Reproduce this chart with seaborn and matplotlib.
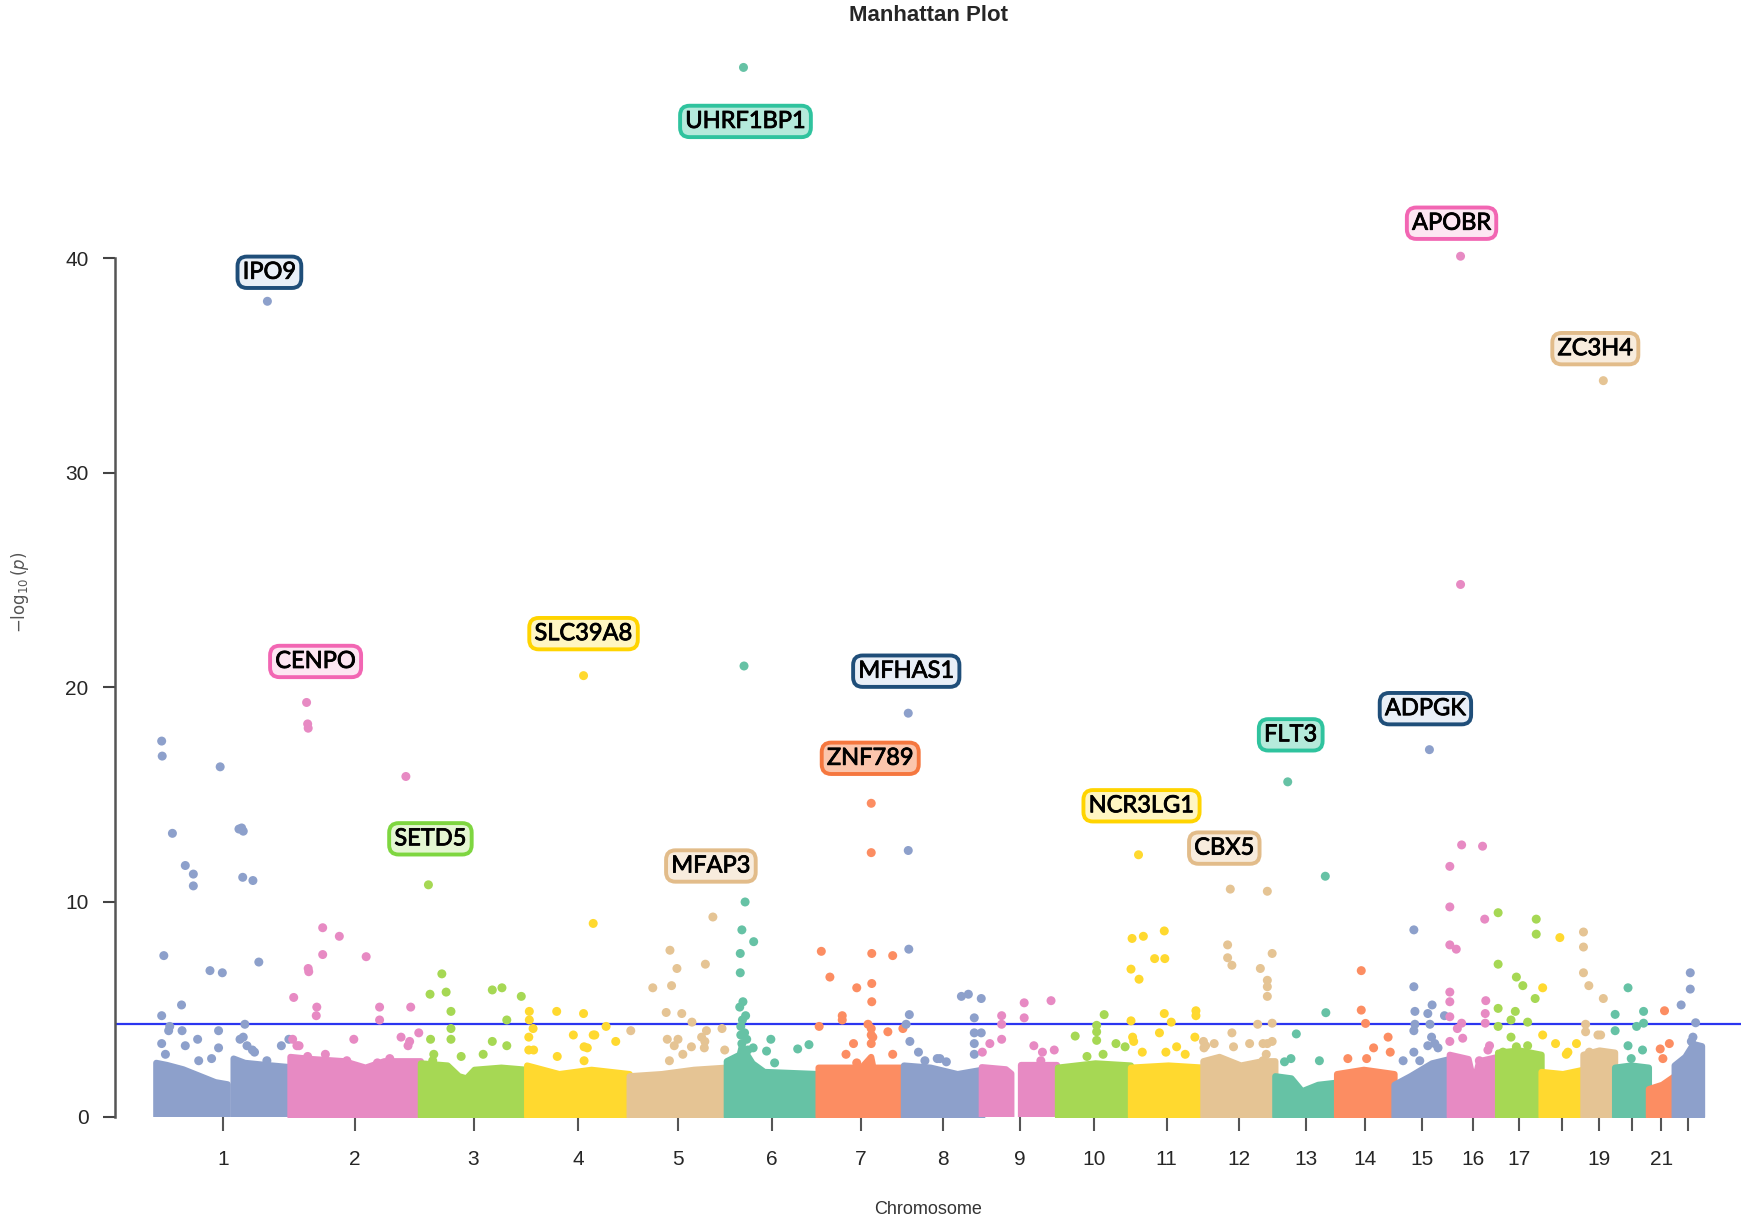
"""
Manhattan plot of gene-level associations
"""

import seaborn as sns
import pandas as pd
import numpy as np
import matplotlib.pyplot as plt
import matplotlib.patheffects as pe

# chromosomes and their lengths (Mb)
chrom_names = [str(i) for i in range(1, 23)]
chrom_len = [249, 243, 198, 191, 181, 171, 159, 146, 141, 136, 135,
             134, 115, 107, 103, 90, 81, 78, 59, 63, 48, 51]
tick_labels = ['1', '2', '3', '4', '5', '6', '7', '8', '9', '10', '11',
               '12', '13', '14', '15', '16', '17', '', '19', '', '21', '']

# labelled lead genes
gene_names = ['IPO9', 'CENPO', 'SETD5', 'SLC39A8', 'MFAP3', 'UHRF1BP1', 'ZNF789',
              'MFHAS1', 'NCR3LG1', 'CBX5', 'FLT3', 'ADPGK', 'APOBR', 'ZC3H4']
gene_chrom = [1, 2, 3, 4, 5, 6, 7, 8, 11, 12, 13, 15, 16, 19]
gene_pos = [207, 31, 15, 106, 156, 32, 99, 9, 15, 51, 24, 66, 21, 38]
gene_logp = [38.0, 19.3, 10.8, 20.55, 9.3, 48.9, 14.6, 18.8, 12.2, 10.6, 15.6,
             17.1, 40.1, 34.3]

# other genes above the dense band, one list per chromosome (pos in Mb)
hit_pos = [
    [10, 11, 119, 30, 159, 162, 154, 54, 69, 69, 161, 180, 14, 100, 123, 191,
     47, 10, 25, 165, 48, 116, 77, 10, 54, 116, 156, 179, 233, 17, 23, 162,
     169, 183, 79, 103, 206, 247],
    [33, 34, 216, 61, 92, 61, 142, 34, 35, 7, 50, 49, 167, 225, 167, 119, 207,
     220, 17, 5, 240, 13, 223, 66, 163, 186, 33, 106],
    [40, 18, 48, 134, 152, 188, 57, 161, 57, 19, 57, 134, 161, 25, 117, 23, 76],
    [124, 5, 56, 106, 5, 12, 87, 127, 4, 4, 13, 113, 148, 166, 107, 124, 57,
     107],
    [76, 89, 142, 44, 79, 69, 98, 117, 144, 173, 71, 135, 140, 84, 3, 91, 100,
     75, 116, 141, 178],
    [33, 35, 29, 51, 26, 26, 31, 25, 36, 27, 83, 75, 133, 154, 38, 40, 27, 29,
     30, 34, 50, 90],
    [99, 6, 22, 100, 139, 72, 100, 100, 45, 45, 2, 93, 99, 99, 99, 130, 66,
     102, 158, 139, 52, 72],
    [9, 10, 11, 5, 108, 121, 145, 132, 132, 145, 132, 28, 68, 12, 40, 63, 80,
     132],
    [37, 37, 37, 79, 79, 129, 97, 135, 15, 1, 113, 110],
    [87, 73, 33, 73, 73, 109, 126, 55, 85],
    [3, 24, 63, 45, 64, 1, 16, 63, 76, 122, 122, 1, 54, 120, 4, 6, 22, 86, 102,
     66],
    [120, 46, 46, 54, 129, 107, 120, 120, 120, 102, 129, 54, 120, 129, 5, 1, 2,
     21, 57, 87, 112, 118, 112],
    [94, 95, 40, 18, 30, 83],
    [46, 46, 54, 96, 69, 100, 56, 21],
    [37, 37, 39, 63, 39, 71, 37, 67, 94, 63, 70, 37, 76, 82, 17, 48],
    [21, 23, 62, 1, 1, 1, 13, 66, 1, 1, 1, 15, 23, 25, 68, 67, 67, 75, 1, 72,
     56],
    [1, 1, 35, 47, 72, 72, 70, 1, 33, 25, 56, 1, 25, 56, 35, 10, 54],
    [35, 3, 3, 27, 50, 66, 47],
    [1, 1, 1, 11, 38, 5, 5, 33, 28, 12],
    [25, 1, 54, 1, 54, 41, 25, 52, 31],
    [30, 22, 39, 27],
    [30, 30, 13, 40, 32, 35, 36, 34],
]
hit_logp = [
    [17.5, 16.8, 16.3, 13.2, 13.45, 13.3, 13.4, 11.7, 11.3, 10.75, 11.15, 11.0,
     7.5, 6.8, 6.7, 7.2, 5.2, 4.7, 4.2, 4.3, 4.0, 4.0, 3.6, 3.4, 3.3, 3.2, 3.6,
     3.1, 3.3, 2.9, 4.0, 3.7, 3.3, 3.0, 2.6, 2.7, 2.6, 3.6],
    [18.3, 18.1, 15.85, 8.8, 8.4, 7.55, 7.45, 6.9, 6.75, 5.55, 5.1, 4.7, 5.1,
     5.1, 4.5, 3.6, 3.7, 3.3, 3.3, 3.6, 3.9, 3.3, 3.5, 2.9, 2.5, 2.7, 2.8, 2.6],
    [6.65, 5.7, 5.8, 5.9, 6.0, 5.6, 4.9, 4.5, 4.1, 3.6, 3.6, 3.5, 3.3, 2.9,
     2.9, 2.6, 2.8],
    [9.0, 4.9, 4.9, 4.8, 4.5, 4.1, 3.8, 3.8, 3.7, 3.1, 3.1, 3.2, 4.2, 3.5,
     3.25, 3.8, 2.8, 2.6],
    [7.75, 6.9, 7.1, 6.0, 6.1, 4.85, 4.8, 4.4, 4.0, 4.1, 3.6, 3.7, 3.2, 3.3,
     4.0, 3.6, 2.9, 2.6, 3.25, 3.5, 3.1],
    [21.0, 10.0, 8.7, 8.15, 7.6, 6.7, 5.35, 5.1, 4.7, 4.2, 3.6, 3.05, 3.15,
     3.35, 3.6, 3.1, 3.8, 3.4, 4.5, 3.9, 3.2, 2.5],
    [12.3, 7.7, 6.5, 7.6, 7.5, 6.0, 6.2, 5.35, 4.7, 4.5, 4.2, 4.3, 4.1, 3.8,
     3.4, 3.95, 3.4, 3.7, 4.1, 2.9, 2.9, 2.5],
    [12.4, 7.8, 4.75, 4.3, 5.6, 5.7, 5.5, 4.6, 3.9, 3.9, 3.4, 3.0, 2.7, 3.5,
     2.6, 2.7, 2.55, 2.9],
    [4.7, 4.3, 3.6, 5.3, 4.6, 5.4, 3.3, 3.1, 3.4, 3.0, 3.0, 2.6],
    [4.75, 4.25, 3.75, 3.95, 3.55, 3.4, 3.25, 2.8, 2.9],
    [8.3, 8.4, 8.65, 7.36, 7.36, 6.87, 6.4, 4.8, 4.4, 4.93, 4.7, 4.46, 3.9,
     3.7, 3.7, 3.5, 3.0, 3.25, 2.9, 3.0],
    [10.5, 8.0, 7.4, 7.05, 7.6, 6.9, 6.35, 6.05, 5.6, 4.3, 4.35, 3.9, 3.4, 3.5,
     3.3, 3.5, 3.2, 3.4, 3.25, 3.4, 3.4, 2.9, 2.6],
    [11.2, 4.84, 3.85, 2.55, 2.7, 2.6],
    [6.8, 4.96, 4.34, 3.7, 3.2, 3.0, 2.7, 2.7],
    [8.7, 6.05, 4.9, 4.8, 4.3, 5.2, 4.0, 4.3, 4.7, 3.3, 3.7, 3.0, 3.4, 3.2,
     2.6, 2.6],
    [24.8, 12.66, 12.6, 11.66, 9.77, 8.0, 7.8, 9.2, 5.8, 5.35, 4.65, 4.1, 4.35,
     3.65, 5.4, 4.8, 4.35, 3.3, 3.5, 3.1, 2.6],
    [9.5, 7.1, 6.5, 6.1, 9.2, 8.5, 5.5, 5.04, 4.9, 4.5, 4.4, 4.2, 3.7, 3.3,
     3.25, 3.0, 2.9],
    [8.34, 6.0, 3.8, 3.4, 3.0, 3.4, 2.9],
    [8.6, 7.9, 6.7, 6.1, 5.5, 4.3, 3.95, 3.8, 3.8, 3.0],
    [6.0, 4.76, 4.9, 4.0, 4.35, 4.2, 3.3, 3.1, 2.7],
    [4.93, 3.15, 3.4, 2.7],
    [6.7, 5.94, 5.2, 4.37, 3.5, 3.7, 3.0, 2.7],
]

# top of the dense band of non-significant genes (nan = centromere gap)
bulk_pos = [
    [0, 20, 50, 80, 110, 133, 138, 144, 165, 205, 249],
    [0, 40, 100, 140, 175, 243],
    [0, 50, 71, 85, 100, 150, 198],
    [0, 60, 120, 191],
    [0, 60, 120, 181],
    [0, 24, 28, 38, 48, 70, 171],
    [0, 80, 98, 102, 159],
    [0, 50, 100, 146],
    [0, 45, 55, 64, 73, 141],
    [0, 70, 136],
    [0, 70, 135],
    [0, 30, 70, 110, 134],
    [0, 30, 50, 80, 115],
    [0, 50, 107],
    [0, 30, 70, 103],
    [0, 35, 45, 55, 90],
    [0, 40, 81],
    [0, 40, 78],
    [0, 30, 59],
    [0, 30, 63],
    [0, 25, 48],
    [0, 20, 35, 51],
]
bulk_top = [
    [2.5, 2.4, 2.2, 1.9, 1.6, 1.5, np.nan, 2.7, 2.5, 2.4, 2.3],
    [2.8, 2.7, 2.6, 2.3, 2.6, 2.6],
    [2.5, 2.4, 1.9, 1.8, 2.2, 2.3, 2.2],
    [2.4, 2.0, 2.2, 2.0],
    [1.9, 2.0, 2.2, 2.3],
    [2.6, 2.9, 3.3, 2.9, 2.5, 2.1, 2.0],
    [2.3, 2.3, 2.8, 2.3, 2.3],
    [2.4, 2.3, 2.0, 2.2],
    [2.3, 2.2, 2.0, np.nan, 2.4, 2.4],
    [2.3, 2.5, 2.4],
    [2.3, 2.4, 2.3],
    [2.6, 2.8, 2.4, 2.6, 2.6],
    [1.9, 1.8, 1.2, 1.5, 1.6],
    [2.0, 2.2, 2.0],
    [1.5, 1.9, 2.5, 2.7],
    [2.9, 2.7, 1.6, 2.6, 2.8],
    [3.0, 3.1, 2.9],
    [2.1, 2.0, 2.2],
    [2.9, 3.1, 3.0],
    [2.3, 2.4, 2.3],
    [1.3, 1.5, 1.9],
    [2.4, 2.8, 3.4, 3.3],
]

suggestive_line = 4.3

# chromosome colours (cycle of seven)
chrom_cycle = ['#8DA0CB', '#E78AC3', '#A6D854', '#FFD92F', '#E5C494',
               '#66C2A5', '#FC8D62']
# label box (edge, face) per colour
box_cycle = [('#1F4E79', '#E9EFF7'), ('#F266B3', '#FDE6F2'),
             ('#7ED640', '#E4F6D2'), ('#FFD400', '#FFF6C2'),
             ('#E2BC8A', '#F8ECDD'), ('#2FC39E', '#B5EADB'),
             ('#F5773F', '#FBC5AC')]
# label offsets from the gene's point, in pixels
label_offsets = [(2, 29), (9, 41), (2, 46), (0, 42), (-2, 51), (2, -54),
                 (-1, 45), (-2, 42), (3, 49), (-6, 41), (3, 47), (-4, 41),
                 (-9, 33), (-8, 32)]

offsets = np.concatenate([[0], np.cumsum(chrom_len)[:-1]])
mids = offsets + np.array(chrom_len) / 2
palette = {c: chrom_cycle[i % 7] for i, c in enumerate(chrom_names)}

rows = []
for i, c in enumerate(chrom_names):
    for p, v in zip(hit_pos[i], hit_logp[i]):
        rows.append([c, p + offsets[i], v])
for c, p, v in zip(gene_chrom, gene_pos, gene_logp):
    rows.append([str(c), p + offsets[c - 1], v])
points = pd.DataFrame(rows, columns=['chrom', 'gpos', 'logp'])

sns.set_style('white')
plt.rcParams['font.family'] = ['Liberation Sans', 'DejaVu Sans']

fig = plt.figure(figsize=(17.5, 12.26), dpi=100)
ax = fig.add_axes([0.0657, 0.0893, 0.929, 0.8907])

# dense band
for i, c in enumerate(chrom_names):
    x = np.array(bulk_pos[i]) + offsets[i]
    y = np.array(bulk_top[i])
    ax.fill_between(x, 0, y, color=palette[c], lw=4.5, edgecolor=palette[c],
                    joinstyle='round', zorder=1)

sns.scatterplot(data=points, x='gpos', y='logp', hue='chrom', palette=palette,
                s=42, linewidth=0, legend=False, ax=ax, zorder=3)

ax.axhline(suggestive_line, color='#2B35F0', lw=1.6, zorder=2)

# gene labels
for i, g in enumerate(gene_names):
    ci = gene_chrom[i] - 1
    edge, face = box_cycle[ci % 7]
    t = ax.annotate(g, (gene_pos[i] + offsets[ci], gene_logp[i]),
                    xytext=label_offsets[i], textcoords='offset pixels',
                    ha='center', va='center', fontsize=17,
                    family=['Lato', 'DejaVu Sans'], color='black', zorder=5,
                    bbox=dict(boxstyle='round,pad=0.22,rounding_size=0.4',
                              fc=face, ec=edge, lw=2.8))
    t.set_path_effects([pe.withStroke(linewidth=0.6, foreground='black')])

ax.set_xlim(-77, 2952)
ax.set_ylim(0, 50.9)
ax.set_xticks(mids)
ax.set_xticklabels(tick_labels, fontsize=15)
ax.set_yticks([0, 10, 20, 30, 40])
ax.set_yticklabels(['0', '10', '20', '30', '40'], fontsize=15)
ax.tick_params(axis='x', length=10, width=1.5, color='#555555', pad=14,
               bottom=True)
ax.tick_params(axis='y', length=9, width=1.5, color='#444444', pad=10, left=True)
ax.set_xlabel('')
ax.set_ylabel('')
for s in ['top', 'right', 'bottom']:
    ax.spines[s].set_visible(False)
ax.spines['left'].set_bounds(0, 40)
ax.spines['left'].set_color('#555555')
ax.spines['left'].set_linewidth(1.8)

fig.text(0.5306, 0.996, 'Manhattan Plot', ha='center', va='top', fontsize=16,
         fontweight='bold')
fig.text(0.5306, 0.0137, 'Chromosome', ha='center', va='center', fontsize=13,
         color='#333333')
fig.text(0.0115, 0.517, r'$-\log_{10}(p)$', ha='center', va='center',
         rotation=90, fontsize=12, color='#555555')

fig.savefig('out.png', dpi=100)
